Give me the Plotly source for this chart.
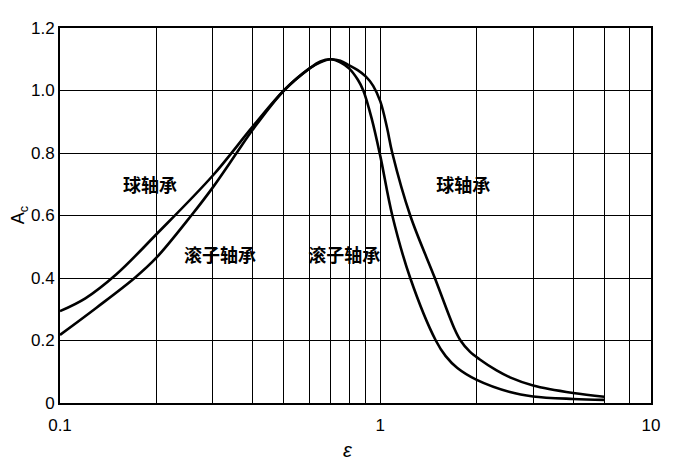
import plotly.graph_objects as go
import math

# Ball bearing curve (球轴承)
ball_x = [0.1, 0.12, 0.15, 0.2, 0.3, 0.4, 0.5, 0.6, 0.65, 0.7, 0.75, 0.8, 0.85, 0.9, 0.95, 1.0, 1.05, 1.09, 1.24, 1.48, 1.7, 1.78, 1.9, 2.04, 2.3, 2.54, 3.0, 4.0, 5.0]
ball_y = [0.294, 0.335, 0.412, 0.54, 0.728, 0.885, 1.0, 1.07, 1.09, 1.10, 1.095, 1.08, 1.065, 1.045, 1.015, 0.965, 0.88, 0.8, 0.6, 0.4, 0.24, 0.2, 0.165, 0.14, 0.105, 0.082, 0.056, 0.032, 0.02]

# Roller bearing curve (滚子轴承)
roller_x = [0.1, 0.13, 0.171, 0.2, 0.257, 0.3, 0.356, 0.4, 0.5, 0.6, 0.65, 0.7, 0.75, 0.8, 0.85, 0.885, 0.94, 1.0, 1.09, 1.24, 1.49, 1.6, 1.74, 2.0, 2.54, 3.0, 4.0, 5.0]
roller_y = [0.218, 0.305, 0.4, 0.465, 0.6, 0.69, 0.8, 0.875, 1.0, 1.07, 1.093, 1.10, 1.09, 1.07, 1.035, 1.0, 0.91, 0.79, 0.6, 0.4, 0.2, 0.15, 0.112, 0.074, 0.035, 0.021, 0.013, 0.01]

# Axis ticks, labels and grid positions
x_ticks = [0.1, 1, 7]
x_text = ["0.1", "1", "10"]
x_minor_grid = [0.2, 0.3, 0.4, 0.5, 0.6, 0.7, 0.8, 0.9, 2, 3, 4, 5, 6]
y_ticks = [0, 0.2, 0.4, 0.6, 0.8, 1.0, 1.2]
y_text = ["0", "0.2", "0.4", "0.6", "0.8", "1.0", "1.2"]

# Curve labels
label_text = ["球轴承", "滚子轴承", "滚子轴承", "球轴承"]
label_x = [0.191, 0.316, 0.772, 1.816]
label_y = [0.69, 0.467, 0.467, 0.69]

fig = go.Figure()
line_style = dict(color="black", width=2.6, shape="spline", smoothing=1.0)
fig.add_trace(go.Scatter(x=ball_x, y=ball_y, mode="lines", line=line_style, name="球轴承"))
fig.add_trace(go.Scatter(x=roller_x, y=roller_y, mode="lines", line=line_style, name="滚子轴承"))
fig.add_trace(go.Scatter(x=label_x, y=label_y, mode="text", text=label_text,
                         textfont=dict(family="Noto Sans CJK SC", size=18, color="black", weight="bold"),
                         textposition="middle center", hoverinfo="skip"))

tick_font = dict(family="Liberation Sans, Arial, sans-serif", size=17, color="black")

fig.update_layout(
    width=683, height=453,
    margin=dict(l=52, r=40, t=20, b=58),
    paper_bgcolor="white", plot_bgcolor="white",
    showlegend=False,
    xaxis=dict(type="log", range=[math.log10(0.1), math.log10(7)],
               tickvals=x_ticks, ticktext=x_text, tickfont=tick_font,
               showgrid=True, gridcolor="black", gridwidth=1.3,
               minor=dict(tickvals=x_minor_grid, showgrid=True, gridcolor="black", gridwidth=1.3, ticks=""),
               showline=True, linecolor="black", linewidth=2, mirror=True,
               ticks="", zeroline=False, ticklabelstandoff=6),
    yaxis=dict(range=[0, 1.2], tickvals=y_ticks, ticktext=y_text, tickfont=tick_font,
               showgrid=True, gridcolor="black", gridwidth=1.3,
               showline=True, linecolor="black", linewidth=2, mirror=True,
               ticks="", zeroline=False),
    annotations=[
        dict(text="A<sub>c</sub>", xref="paper", yref="paper", x=-0.068, y=0.5,
             textangle=-90, showarrow=False, xanchor="center", yanchor="middle",
             font=dict(family="Liberation Sans, Arial, sans-serif", size=18, color="black")),
        dict(text="<i>ε</i>", xref="paper", yref="paper", x=(348 - 60) / 591, y=-0.125,
             showarrow=False, xanchor="center", yanchor="middle",
             font=dict(family="Liberation Sans, Arial, sans-serif", size=20, color="black")),
    ],
)

fig.write_html("out.html")
